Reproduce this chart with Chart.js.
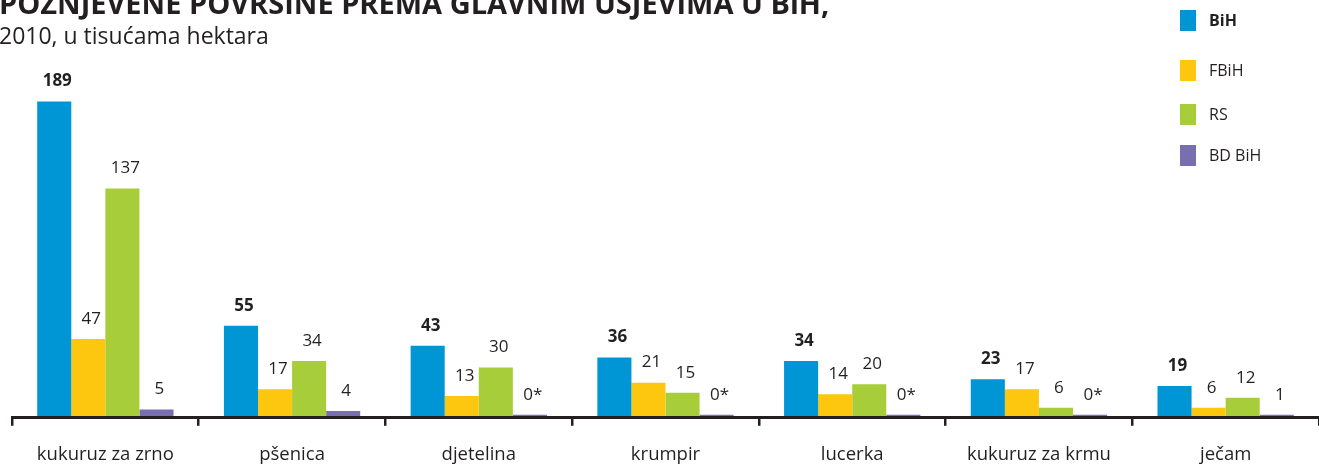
<!DOCTYPE html>
<html>
<head>
<meta charset="utf-8">
<script src="https://cdn.jsdelivr.net/npm/chart.js@4"></script>
<style>
  html, body { margin: 0; padding: 0; background: #fff; overflow: hidden; }
  #wrap { position: relative; width: 1319px; height: 466px; overflow: hidden; }
  #box { position: relative; width: 1319px; height: 484px; }
</style>
</head>
<body>
<div id="wrap"><div id="box"><canvas id="chartUsjevi"></canvas></div></div>
<script>
// požnjevene površine, 2010, u tisućama hektara
const usjevi = ['kukuruz za zrno', 'pšenica', 'djetelina', 'krumpir', 'lucerka', 'kukuruz za krmu', 'ječam'];
const bih  = [189, 55, 43, 36, 34, 23, 19];
const fbih = [47, 17, 13, 21, 14, 17, 6];
const rs   = [137, 34, 30, 15, 20, 6, 12];
const bdBih = [5, 4, 0, 0, 0, 0, 1];

const naslov = 'POŽNJEVENE POVRŠINE PREMA GLAVNIM USJEVIMA U BiH,';
const podnaslov = '2010, u tisućama hektara';

const tekst = '#231f20';
const font = '"Open Sans", "Noto Sans", sans-serif';

// naslov i legenda crtaju se na platnu
const naslovPlugin = {
    id: 'naslov',
    afterDraw(chart) {
        const ctx = chart.ctx;
        ctx.save();
        ctx.fillStyle = tekst;
        ctx.textAlign = 'left';
        ctx.textBaseline = 'alphabetic';
        ctx.font = 'bold 29px ' + font;
        ctx.fillText(naslov, -1, 13.5);
        ctx.font = '23px ' + font;
        ctx.fillText(podnaslov, -1, 44);

        const vrhovi = [10, 60, 104, 145];
        chart.data.datasets.forEach((ds, i) => {
            ctx.fillStyle = ds.backgroundColor;
            ctx.fillRect(1180, vrhovi[i], 16, 21);
            ctx.fillStyle = tekst;
            ctx.font = (i === 0 ? 'bold ' : '') + '16px ' + font;
            ctx.textBaseline = 'middle';
            ctx.fillText(ds.label, 1209, vrhovi[i] + 11);
        });
        ctx.restore();
    }
};

// vrijednosti iznad stupaca
const vrijednostiPlugin = {
    id: 'vrijednosti',
    afterDatasetsDraw(chart) {
        const ctx = chart.ctx;
        ctx.save();
        ctx.fillStyle = tekst;
        ctx.textAlign = 'center';
        ctx.textBaseline = 'middle';
        chart.data.datasets.forEach((ds, i) => {
            const meta = chart.getDatasetMeta(i);
            ctx.font = (i === 0 ? 'bold ' : '') + '17px ' + font;
            meta.data.forEach((bar, j) => {
                const v = ds.data[j];
                const txt = v === 0 ? '0*' : String(v);
                ctx.fillText(txt, bar.x + 3, bar.y - 20);
            });
        });
        ctx.restore();
    }
};

new Chart(document.getElementById('chartUsjevi'), {
    type: 'bar',
    data: {
        labels: usjevi,
        datasets: [
            { label: 'BiH', data: bih, backgroundColor: '#0095d5' },
            { label: 'FBiH', data: fbih, backgroundColor: '#fdc70f' },
            { label: 'RS', data: rs, backgroundColor: '#a8cd3a' },
            { label: 'BD BiH', data: bdBih, backgroundColor: '#776fb0', minBarLength: 3 }
        ]
    },
    options: {
        responsive: true,
        maintainAspectRatio: false,
        animation: false,
        devicePixelRatio: 1,
        categoryPercentage: 0.73,
        barPercentage: 1,
        layout: { padding: { left: 12, right: 0, top: 83, bottom: 0 } },
        plugins: {
            legend: { display: false },
            tooltip: { enabled: false }
        },
        scales: {
            x: {
                grid: {
                    display: true,
                    drawOnChartArea: false,
                    drawTicks: true,
                    tickLength: 8,
                    color: tekst,
                    lineWidth: 2.5
                },
                border: { display: true, color: tekst, width: 3, z: 1 },
                ticks: {
                    color: tekst,
                    padding: 18,
                    maxRotation: 0,
                    autoSkip: false,
                    font: { family: font, size: 18.5 }
                }
            },
            y: {
                display: false,
                min: 0,
                max: 200
            }
        }
    },
    plugins: [vrijednostiPlugin, naslovPlugin]
});
</script>
</body>
</html>
